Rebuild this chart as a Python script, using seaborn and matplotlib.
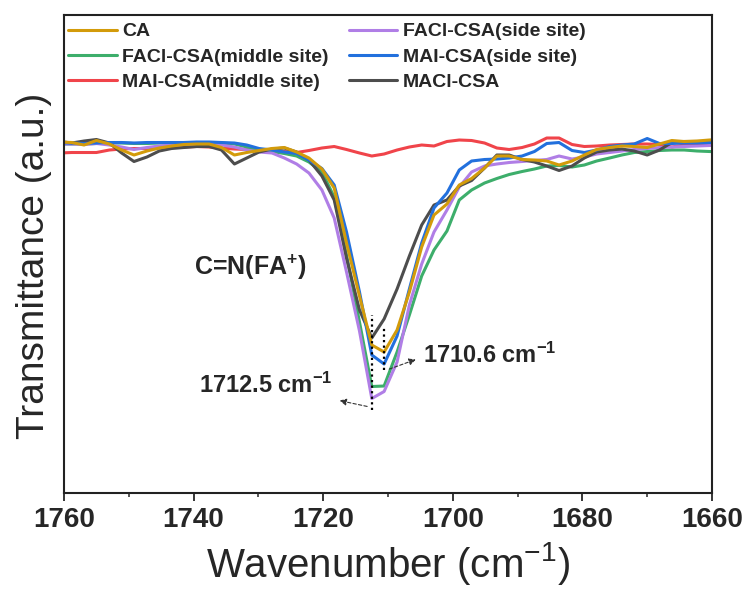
import numpy as np
import pandas as pd
import matplotlib
matplotlib.use("Agg")
import matplotlib.pyplot as plt
import seaborn as sns

# ---------------- data ----------------
wavenumber = [1760.7, 1758.8, 1756.9, 1755.0, 1753.0, 1751.1, 1749.2, 1747.2, 1745.3, 1743.4,
              1741.5, 1739.5, 1737.6, 1735.7, 1733.7, 1731.8, 1729.9, 1727.9, 1726.0, 1724.1,
              1722.2, 1720.2, 1718.3, 1716.4, 1714.4, 1712.5, 1710.6, 1708.6, 1706.7, 1704.8,
              1702.9, 1700.9, 1699.0, 1697.1, 1695.1, 1693.2, 1691.3, 1689.3, 1687.4, 1685.5,
              1683.6, 1681.6, 1679.7, 1677.8, 1675.8, 1673.9, 1672.0, 1670.0, 1668.1, 1666.2,
              1664.3, 1662.3, 1660.4, 1658.5]

ca = [71.6, 71.5, 71.0, 71.9, 71.2, 70.0, 69.0, 69.8, 70.4, 70.8,
      71.1, 71.2, 71.2, 70.5, 69.0, 69.5, 69.9, 70.3, 70.5, 69.6,
      68.4, 66.2, 62.4, 51.4, 40.8, 31.0, 29.6, 34.0, 41.6, 50.6,
      57.0, 59.2, 63.0, 64.3, 66.4, 68.8, 68.8, 68.1, 68.0, 67.8,
      67.0, 67.8, 69.0, 70.1, 70.5, 70.8, 70.7, 70.5, 71.2, 71.9,
      71.7, 71.8, 72.0, 72.1]

facl_middle = [71.2, 71.2, 71.2, 71.3, 71.4, 71.4, 71.3, 71.3, 71.4, 71.4,
               71.5, 71.5, 71.4, 71.4, 71.2, 70.6, 70.0, 69.7, 69.3, 68.8,
               67.6, 65.6, 60.6, 49.0, 35.6, 22.7, 22.8, 29.6, 37.0, 44.8,
               50.0, 53.8, 60.0, 62.0, 63.4, 64.3, 65.1, 65.7, 66.2, 66.8,
               66.9, 66.6, 67.0, 67.8, 68.4, 69.0, 69.5, 69.7, 69.9, 70.0,
               70.0, 69.8, 69.7, 69.6]

mai_middle = [69.4, 69.5, 69.5, 69.5, 70.0, 70.2, 70.3, 70.3, 70.4, 70.5,
              70.6, 70.7, 70.6, 70.4, 70.2, 70.1, 69.9, 69.8, 69.7, 69.5,
              69.9, 70.4, 70.7, 70.1, 69.4, 68.8, 69.2, 70.0, 70.6, 71.0,
              70.8, 71.7, 72.0, 71.9, 71.4, 70.4, 70.1, 70.5, 71.2, 72.4,
              72.4, 71.1, 70.7, 70.8, 71.0, 71.1, 71.2, 71.2, 71.1, 70.6,
              71.0, 71.1, 71.0, 71.0]

facl_side = [71.2, 71.2, 71.1, 71.3, 71.0, 70.6, 70.1, 70.5, 70.8, 71.0,
             71.0, 71.1, 71.1, 71.0, 70.6, 70.0, 69.6, 69.4, 68.4, 67.2,
             65.4, 62.0, 56.4, 45.6, 33.8, 20.3, 21.7, 27.6, 39.0, 47.2,
             53.6, 58.0, 62.6, 65.6, 66.8, 67.2, 67.5, 67.7, 67.9, 68.1,
             68.8, 68.2, 68.6, 69.2, 69.5, 69.8, 70.1, 70.3, 70.5, 70.6,
             70.7, 70.8, 70.9, 71.0]

mai_side = [71.4, 71.4, 71.3, 71.4, 71.5, 71.5, 71.4, 71.5, 71.5, 71.5,
            71.5, 71.6, 71.6, 71.5, 71.4, 71.0, 70.3, 70.0, 69.6, 69.3,
            68.0, 66.3, 63.0, 53.6, 41.6, 29.0, 27.2, 32.8, 42.2, 51.4,
            58.4, 61.4, 66.0, 67.8, 68.1, 68.2, 68.4, 68.8, 69.7, 71.3,
            71.5, 69.9, 69.5, 70.0, 70.7, 71.0, 71.2, 72.3, 71.3, 71.3,
            71.4, 71.4, 71.5, 71.5]

macl = [71.7, 71.4, 71.8, 72.1, 71.4, 69.4, 67.7, 68.6, 69.8, 70.3,
        70.5, 70.7, 70.7, 70.0, 67.2, 68.4, 69.6, 70.2, 70.4, 69.6,
        68.0, 64.8, 60.0, 48.4, 38.0, 32.4, 36.2, 42.2, 48.8, 55.0,
        59.0, 60.0, 62.8, 63.9, 66.4, 69.0, 69.0, 68.1, 67.6, 66.8,
        65.9, 66.8, 68.4, 69.6, 70.0, 70.2, 69.8, 69.0, 70.0, 71.5,
        71.7, 71.7, 71.7, 71.7]

labels = ["CA", "FACl-CSA(middle site)", "MAI-CSA(middle site)",
          "FACl-CSA(side site)", "MAI-CSA(side site)", "MACl-CSA"]
series = [ca, facl_middle, mai_middle, facl_side, mai_side, macl]
colors = ["#D39B0A", "#3DAE6B", "#F0444A", "#B07EE6", "#2270DD", "#4D4D4D"]
x_ticks = [1760, 1740, 1720, 1700, 1680, 1660]

# ---------------- style ----------------
sns.set_theme(style="white")
plt.rcParams["font.family"] = ["Liberation Sans", "DejaVu Sans"]
plt.rcParams["mathtext.fontset"] = "custom"
plt.rcParams["mathtext.rm"] = "Liberation Sans"
plt.rcParams["mathtext.bf"] = "Liberation Sans:bold"
plt.rcParams["mathtext.it"] = "Liberation Sans:italic"

frames = [pd.DataFrame({"wn": wavenumber, "T": s, "sample": lab}) for lab, s in zip(labels, series)]
df = pd.concat(frames, ignore_index=True)
palette = dict(zip(labels, colors))
draw_order = ["MAI-CSA(middle site)", "FACl-CSA(middle site)", "FACl-CSA(side site)",
              "MACl-CSA", "MAI-CSA(side site)", "CA"]

fig = plt.figure(figsize=(7.46, 6.05), dpi=100)
ax = fig.add_axes([0.0858, 0.1856, 0.8686, 0.7896])

sns.lineplot(data=df, x="wn", y="T", hue="sample", hue_order=draw_order,
             palette=palette, linewidth=2.2, sort=True, ax=ax, legend=True)

ax.set_xlim(1760, 1660)
ax.set_ylim(1.46, 97.0)
ax.set_xticks(x_ticks)
ax.set_xticklabels([str(t) for t in x_ticks], fontsize=20, fontweight="bold")
ax.set_xticks([1750, 1730, 1710, 1690, 1670], minor=True)
ax.set_yticks([])
ax.tick_params(axis="x", which="major", direction="out", length=6, width=1.3, pad=4,
               bottom=True, top=False)
ax.tick_params(axis="x", which="minor", direction="out", length=3, width=1.1,
               bottom=True, top=False)
for sp in ax.spines.values():
    sp.set_visible(True)
    sp.set_linewidth(1.5)
    sp.set_color("#222222")

ax.set_xlabel("Wavenumber (cm$^{-1}$)", fontsize=29, labelpad=5)
ax.set_ylabel("Transmittance (a.u.)", fontsize=28)
ax.yaxis.set_label_coords(-0.018, 0.474)

# legend in reference order
handles, labs = ax.get_legend_handles_labels()
hmap = dict(zip(labs, handles))
ax.legend([hmap[l] for l in labels], labels, ncol=2, loc="upper left",
          bbox_to_anchor=(-0.006, 1.0), frameon=False, borderaxespad=0.35, borderpad=0.05,
          handlelength=2.5, handletextpad=0.27, columnspacing=1.05, labelspacing=0.4,
          prop={"weight": "bold", "size": 14})

# annotations
ax.text(1739.9, 46.6, r"C=N(FA$^{\mathbf{+}}$)", fontsize=18, fontweight="bold",
        ha="left", va="center")
ax.plot([1712.5, 1712.5], [18.0, 37.0], linestyle=(0, (1, 1.5)), color="black", linewidth=1.6)
ax.plot([1710.6, 1710.6], [26.0, 34.4], linestyle=(0, (1, 1.5)), color="black", linewidth=1.6)
ax.annotate("", xy=(1717.9, 20.0), xytext=(1712.8, 18.6),
            arrowprops=dict(arrowstyle="-|>", linestyle=(0, (3, 2)), color="#333333",
                            linewidth=0.8, mutation_scale=10))
ax.annotate("", xy=(1705.3, 28.3), xytext=(1710.2, 26.0),
            arrowprops=dict(arrowstyle="-|>", linestyle=(0, (3, 2)), color="#333333",
                            linewidth=0.8, mutation_scale=10))
ax.text(1718.6, 23.0, r"1712.5 cm$^{\mathbf{-1}}$", fontsize=17, fontweight="bold",
        ha="right", va="center")
ax.text(1704.6, 29.0, r"1710.6 cm$^{\mathbf{-1}}$", fontsize=17, fontweight="bold",
        ha="left", va="center")

fig.savefig("out.png", dpi=100)
